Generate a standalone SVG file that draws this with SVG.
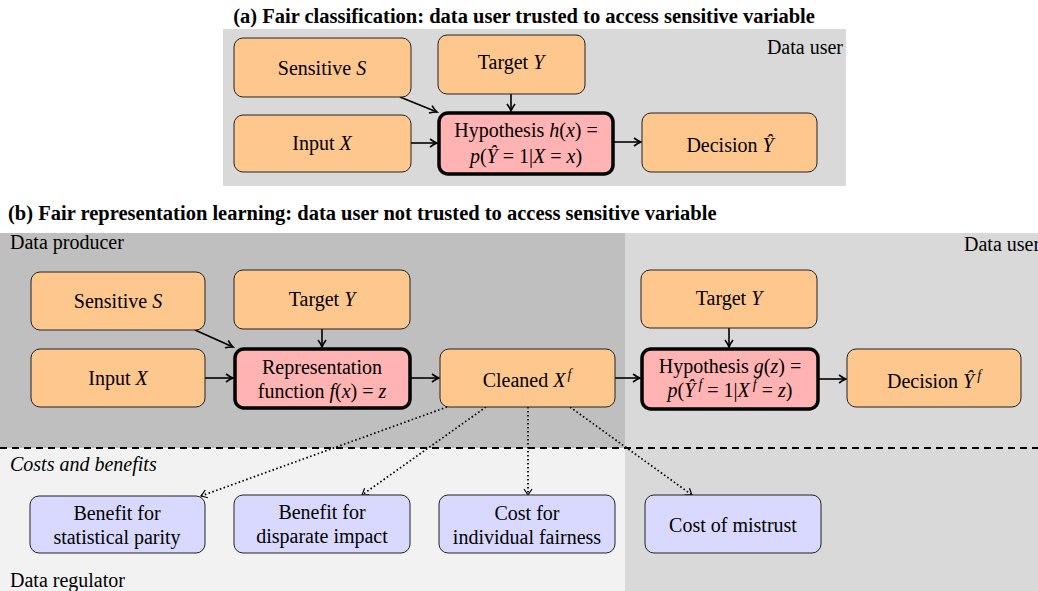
<svg xmlns="http://www.w3.org/2000/svg" width="1038" height="591" viewBox="0 0 1038 591">
<style>
text{font-family:"Liberation Serif","Times New Roman",serif;fill:#000}
.t{font-size:20px;text-anchor:middle}
.title{font-size:20.5px;font-weight:bold}
.lbl{font-size:20px}
.i{font-style:italic}
.o{fill:#fec78e;stroke:#222;stroke-width:1}
.p{fill:#ffb3b3;stroke:#000;stroke-width:3.5}
.b{fill:#d9d9ff;stroke:#222;stroke-width:1}
.a{fill:none;stroke:#000;stroke-width:1.6}
.d{fill:none;stroke:#000;stroke-width:1.7;stroke-dasharray:1.6 2.4}
.s{font-size:14px;font-style:italic}
</style>
<defs>
<marker id="arr" viewBox="-10 -6 12 12" refX="0" refY="0" markerWidth="12" markerHeight="12" markerUnits="userSpaceOnUse" orient="auto">
<path d="M-7,-4 Q-3,-1 0,0 Q-3,1 -7,4" fill="none" stroke="#000" stroke-width="1.6"/>
</marker>
<marker id="arrd" viewBox="-10 -6 12 12" refX="0" refY="0" markerWidth="12" markerHeight="12" markerUnits="userSpaceOnUse" orient="auto">
<path d="M-6,-4 L0,0 L-6,4" fill="none" stroke="#000" stroke-width="1.2"/>
</marker>
</defs>
<rect width="1038" height="591" fill="#fff"/>

<!-- (a) -->
<text class="title" x="524" y="23" text-anchor="middle">(a) Fair classification: data user trusted to access sensitive variable</text>
<rect x="223" y="29" width="623" height="157" fill="#d9d9d9"/>
<text class="lbl" x="843" y="54" text-anchor="end">Data user</text>

<!-- (b) backgrounds -->
<text class="title" x="8" y="220">(b) Fair representation learning: data user not trusted to access sensitive variable</text>
<rect x="0" y="233" width="625" height="215" fill="#bfbfbf"/>
<rect x="625" y="233" width="413" height="358" fill="#d9d9d9"/>
<rect x="0" y="448" width="625" height="143" fill="#f2f2f2"/>
<line x1="0" y1="448" x2="1038" y2="448" stroke="#000" stroke-width="2" stroke-dasharray="7 5"/>
<text class="lbl" x="10" y="249">Data producer</text>
<text class="lbl" x="964" y="251">Data user</text>
<text class="lbl i" x="10" y="471">Costs and benefits</text>
<text class="lbl" x="10" y="587">Data regulator</text>

<!-- connectors -->
<g id="connectors">
<line class="a" x1="400" y1="97" x2="437" y2="112" marker-end="url(#arr)"/>
<line class="a" x1="511" y1="94" x2="511" y2="111" marker-end="url(#arr)"/>
<line class="a" x1="411" y1="143" x2="437" y2="143" marker-end="url(#arr)"/>
<line class="a" x1="614" y1="142" x2="641" y2="142" marker-end="url(#arr)"/>

<line class="a" x1="195" y1="330" x2="233" y2="347" marker-end="url(#arr)"/>
<line class="a" x1="322" y1="329" x2="322" y2="347" marker-end="url(#arr)"/>
<line class="a" x1="205" y1="378" x2="233" y2="378" marker-end="url(#arr)"/>
<line class="a" x1="411" y1="378" x2="439" y2="378" marker-end="url(#arr)"/>
<line class="a" x1="615" y1="378" x2="640" y2="378" marker-end="url(#arr)"/>
<line class="a" x1="729" y1="328" x2="729" y2="347" marker-end="url(#arr)"/>
<line class="a" x1="819" y1="379" x2="846" y2="379" marker-end="url(#arr)"/>

<line class="d" x1="447" y1="407" x2="201" y2="496" marker-end="url(#arrd)"/>
<line class="d" x1="486" y1="407" x2="362" y2="495" marker-end="url(#arrd)"/>
<line class="d" x1="528" y1="407" x2="528" y2="495" marker-end="url(#arrd)"/>
<line class="d" x1="570" y1="407" x2="692" y2="495" marker-end="url(#arrd)"/>
</g>

<!-- (a) nodes -->
<g id="a-sensitive"><rect class="o" x="234" y="38" width="177" height="59" rx="9"/><text class="t" x="322" y="75">Sensitive <tspan class="i">S</tspan></text></g>
<g id="a-target"><rect class="o" x="438" y="35" width="147" height="59" rx="9"/><text class="t" x="511" y="69">Target <tspan class="i">Y</tspan></text></g>
<g id="a-input"><rect class="o" x="234" y="115" width="177" height="57" rx="9"/><text class="t" x="322" y="150">Input <tspan class="i">X</tspan></text></g>
<g id="a-hypothesis"><rect class="p" x="439" y="113" width="174" height="61" rx="9"/><text class="t" x="526" y="137">Hypothesis <tspan class="i">h</tspan>(<tspan class="i">x</tspan>) =</text><text class="t" x="526" y="163"><tspan class="i">p</tspan>(<tspan class="i">Ŷ</tspan> = 1|<tspan class="i">X</tspan> = <tspan class="i">x</tspan>)</text></g>
<g id="a-decision"><rect class="o" x="642" y="113" width="175" height="59" rx="9"/><text class="t" x="730" y="152">Decision <tspan class="i">Ŷ</tspan></text></g>

<!-- (b) nodes -->
<g id="b-sensitive"><rect class="o" x="31" y="272" width="174" height="58" rx="9"/><text class="t" x="118" y="308">Sensitive <tspan class="i">S</tspan></text></g>
<g id="b-target"><rect class="o" x="234" y="270" width="176" height="59" rx="9"/><text class="t" x="322" y="306">Target <tspan class="i">Y</tspan></text></g>
<g id="b-input"><rect class="o" x="31" y="349" width="174" height="58" rx="9"/><text class="t" x="118" y="385">Input <tspan class="i">X</tspan></text></g>
<g id="b-representation"><rect class="p" x="235" y="349" width="175" height="59" rx="9"/><text class="t" x="322" y="374">Representation</text><text class="t" x="322" y="398">function <tspan class="i">f</tspan>(<tspan class="i">x</tspan>) = <tspan class="i">z</tspan></text></g>
<g id="b-cleaned"><rect class="o" x="440" y="349" width="175" height="58" rx="9"/><text class="t" x="527" y="387">Cleaned <tspan class="i">X</tspan><tspan class="s" dx="2" dy="-8">f</tspan></text></g>
<g id="b-target-user"><rect class="o" x="641" y="270" width="176" height="58" rx="9"/><text class="t" x="729" y="305">Target <tspan class="i">Y</tspan></text></g>
<g id="b-hypothesis"><rect class="p" x="642" y="349" width="176" height="60" rx="9"/><text class="t" x="730" y="373">Hypothesis <tspan class="i">g</tspan>(<tspan class="i">z</tspan>) =</text><text class="t" x="730" y="397"><tspan class="i">p</tspan>(<tspan class="i">Ŷ</tspan><tspan class="s" dx="3" dy="-8">f</tspan><tspan dy="8"> = 1|</tspan><tspan class="i">X</tspan><tspan class="s" dx="3" dy="-8">f</tspan><tspan dy="8"> = </tspan><tspan class="i">z</tspan>)</text></g>
<g id="b-decision"><rect class="o" x="847" y="349" width="174" height="58" rx="9"/><text class="t" x="934" y="388">Decision <tspan class="i">Ŷ</tspan><tspan class="s" dx="3" dy="-8">f</tspan></text></g>

<g id="c-parity"><rect class="b" x="30" y="496" width="175" height="57" rx="9"/><text class="t" x="117" y="520">Benefit for</text><text class="t" x="117" y="544">statistical parity</text></g>
<g id="c-impact"><rect class="b" x="234" y="495" width="176" height="58" rx="9"/><text class="t" x="322" y="519">Benefit for</text><text class="t" x="322" y="543">disparate impact</text></g>
<g id="c-individual"><rect class="b" x="439" y="495" width="176" height="58" rx="9"/><text class="t" x="527" y="520">Cost for</text><text class="t" x="527" y="544">individual fairness</text></g>
<g id="c-mistrust"><rect class="b" x="645" y="495" width="176" height="58" rx="9"/><text class="t" x="733" y="532">Cost of mistrust</text></g>
</svg>
